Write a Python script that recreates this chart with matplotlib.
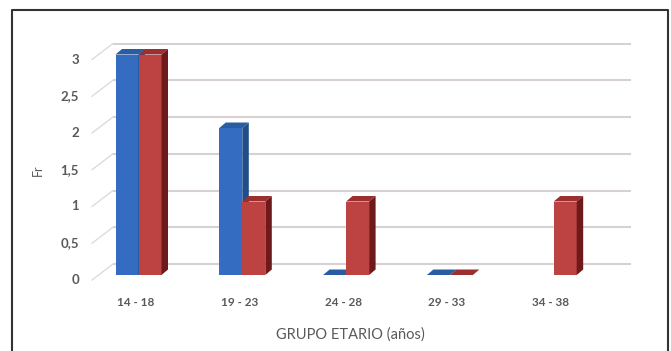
import numpy as np
import matplotlib
matplotlib.use("Agg")
import matplotlib.pyplot as plt
from matplotlib.patches import Polygon

# Frequency by age group, two series
categories = ["14 - 18", "19 - 23", "24 - 28", "29 - 33", "34 - 38"]
serie_azul = [3, 2, 0, 0, np.nan]
serie_roja = [3, 1, 1, 0, 1]
y_ticks = [0, 0.5, 1, 1.5, 2, 2.5, 3]
y_tick_labels = ["0", "0,5", "1", "1,5", "2", "2,5", "3"]

plt.rcParams["font.family"] = ["Lato", "DejaVu Sans"]

W, H = 671, 351
fig = plt.figure(figsize=(W / 100, H / 100), dpi=100)
ax = fig.add_axes([0, 0, 1, 1])

# pixel scale of the chart: one category step and one value unit
PXX = 103.8   # pixels per category
PXY = 73.5    # pixels per unit of value
X0, Y0 = 138.5, 275.0  # pixel position of first category / value 0 (front plane)
ax.set_xlim(-X0 / PXX, (W - X0) / PXX)
ax.set_ylim((Y0 - H) / PXY, Y0 / PXY)
ax.axis("off")

px = lambda p: p / PXX
py = lambda p: p / PXY

grid_col = "#d8d1d1"
diag_col = "#dcdcdc"
text_col = "#595959"

# back wall gridlines and floor diagonals
back_dx, back_dy = px(-25.5), py(11)     # back wall relative to bar front
floor_dx, floor_dy = px(-46.5), py(-5)   # front floor edge relative to bar front
x_left = back_dx
x_right = len(categories) - 1 + px(631 - X0 - 4 * PXX)
for v, lab in zip(y_ticks, y_tick_labels):
    ax.plot([x_left, x_right], [v + back_dy, v + back_dy], color=grid_col,
            lw=1.5, zorder=1, solid_capstyle="butt")
    ax.plot([floor_dx, x_left], [v + floor_dy, v + back_dy], color=diag_col,
            lw=1.0, zorder=1)
    ax.text(floor_dx - px(13), v + floor_dy, lab, ha="right", va="center",
            fontsize=9.5, color=text_col, fontweight="bold")

# pseudo-3D bars
bw = px(23)
ddx, ddy = px(6.5), py(5.5)

def bar3d(xc, val, front, top, side, z):
    if np.isnan(val):
        return
    x0 = xc
    if val > 0:
        ax.bar(x0, val, width=bw, align="edge", color=front, zorder=z,
               linewidth=0)
    ax.add_patch(Polygon([(x0, val), (x0 + ddx, val + ddy),
                          (x0 + bw + ddx, val + ddy), (x0 + bw, val)],
                         closed=True, facecolor=top, edgecolor="none", zorder=z))
    ax.add_patch(Polygon([(x0 + bw, 0), (x0 + bw + ddx, ddy),
                          (x0 + bw + ddx, val + ddy), (x0 + bw, val)],
                         closed=True, facecolor=side, edgecolor="none", zorder=z))

idx = np.arange(len(categories))
for i in idx:
    bar3d(i - bw, serie_azul[i], "#336cc0", "#2a5ca4", "#1f4f8a", 3 + 2 * i)
    bar3d(i, serie_roja[i], "#bd4242", "#9c2f2f", "#6e1a1a", 4 + 2 * i)

# category labels
for i, c in zip(idx, categories):
    ax.text(i - px(3), py(Y0 - 303), c, ha="center", va="center",
            fontsize=8.5, color=text_col, fontweight="bold")

ax.text(px(350 - X0), py(Y0 - 335), "GRUPO ETARIO (años)", ha="center",
        va="center", fontsize=10.5, color=text_col)
ax.text(px(38 - X0), py(Y0 - 170), "Fr", ha="center", va="center",
        rotation=90, fontsize=9, color=text_col)

# outer frame (open at the bottom)
ax.plot([px(12 - X0), px(12 - X0), px(668 - X0), px(668 - X0)],
        [py(Y0 - H - 5), py(Y0 - 10), py(Y0 - 10), py(Y0 - H - 5)],
        color="#333333", lw=1.5, zorder=10, clip_on=False)

fig.savefig("out.png", dpi=100, facecolor="white")
